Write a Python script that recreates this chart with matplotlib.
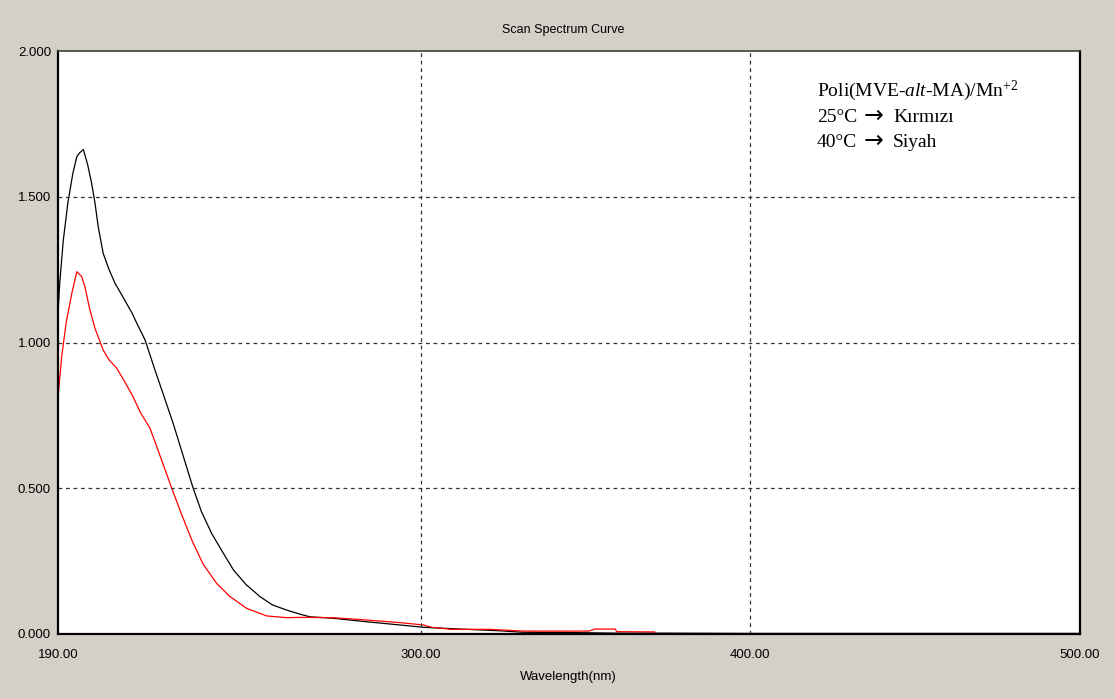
import matplotlib
matplotlib.use("Agg")
import matplotlib.pyplot as plt
from matplotlib import font_manager

# ---------------------------------------------------------------- data
# 40 C (black)
wl_black = [190.0, 190.5, 191.6, 193.0, 194.5, 195.7, 196.5, 197.7, 199.0, 200.2,
            201.2, 202.2, 203.7, 205.5, 207.3, 209.0, 210.8, 212.5, 213.9, 216.4,
            219.4, 222.0, 225.0, 228.0, 231.0, 233.5, 236.6, 240.0, 243.2, 247.0,
            251.3, 255.0, 259.4, 263.4, 266.4, 273.4, 283.6, 293.7, 300.8, 314.0,
            324.0, 331.0, 345.0, 359.0, 371.0, 400.0, 450.0, 500.0]
abs_black = [1.10, 1.20, 1.35, 1.48, 1.58, 1.637, 1.65, 1.662, 1.61, 1.546,
             1.48, 1.397, 1.306, 1.25, 1.203, 1.17, 1.134, 1.10, 1.066, 1.009,
             0.906, 0.82, 0.72, 0.61, 0.50, 0.42, 0.345, 0.28, 0.22, 0.17,
             0.128, 0.10, 0.082, 0.068, 0.059, 0.054, 0.042, 0.031, 0.023, 0.016,
             0.011, 0.006, 0.005, 0.003, 0.003, 0.002, 0.002, 0.002]

# 25 C (red)
wl_red = [190.0, 191.1, 192.5, 194.2, 195.7, 197.2, 198.2, 199.5, 201.2, 203.7,
          205.5, 207.8, 210.0, 212.5, 215.0, 217.9, 221.0, 224.5, 227.5, 230.6,
          234.0, 238.1, 242.0, 247.2, 253.3, 259.4, 263.4, 273.4, 283.6, 293.7,
          300.8, 303.3, 309.4, 321.0, 331.0, 351.0, 352.9, 359.0, 359.5, 371.0]
abs_red = [0.81, 0.95, 1.07, 1.169, 1.243, 1.226, 1.19, 1.12, 1.049, 0.974,
           0.94, 0.912, 0.87, 0.82, 0.76, 0.706, 0.61, 0.50, 0.41, 0.322,
           0.24, 0.174, 0.13, 0.088, 0.062, 0.056, 0.057, 0.056, 0.048, 0.039,
           0.031, 0.023, 0.016, 0.016, 0.010, 0.010, 0.017, 0.017, 0.008, 0.007]

x_ticks = [190, 300, 400, 500]
x_ticklabels = ["190.00", "300.00", "400.00", "500.00"]
y_ticks = [0.0, 0.5, 1.0, 1.5, 2.0]
y_ticklabels = ["0.000", "0.500", "1.000", "1.500", "2.000"]

legend_temps = ["25°C", "40°C"]
legend_words = ["Kırmızı", "Siyah"]

# ---------------------------------------------------------------- fonts
installed = {f.name for f in font_manager.fontManager.ttflist}
ui_font = ["Liberation Sans Narrow", "DejaVu Sans"] if "Liberation Sans Narrow" in installed \
    else ["Liberation Sans", "DejaVu Sans"]
serif_font = ["Liberation Serif", "DejaVu Serif"]
plt.rcParams["mathtext.fontset"] = "custom"
plt.rcParams["mathtext.rm"] = "Liberation Serif"
plt.rcParams["mathtext.it"] = "Liberation Serif:italic"

W, H = 1115, 699
fig = plt.figure(figsize=(W / 100, H / 100), dpi=100, facecolor="#D4D0C8")
ax = fig.add_axes([58 / W, 1 - 634 / H, (1080 - 58) / W, (634 - 51) / H])
ax.set_facecolor("white")

ax.plot(wl_black, abs_black, color="black", lw=0.9)
ax.plot(wl_red, abs_red, color="#FF0000", lw=0.9)

ax.set_xlim(190, 500)
ax.set_ylim(0, 2.0)
ax.set_xticks(x_ticks)
ax.set_xticklabels(x_ticklabels, family=ui_font, fontsize=9.5)
ax.set_yticks(y_ticks)
ax.set_yticklabels(y_ticklabels, family=ui_font, fontsize=9.5)
ax.tick_params(length=0)
ax.tick_params(axis="x", pad=11)
ax.tick_params(axis="y", pad=5)

for v in [300, 400]:
    ax.axvline(v, color="#333333", lw=0.9, ls=(0, (3, 3)))
for v in [0.5, 1.0, 1.5]:
    ax.axhline(v, color="#333333", lw=0.9, ls=(0, (3, 3)))

for side in ["left", "bottom", "right"]:
    ax.spines[side].set_color("black")
    ax.spines[side].set_linewidth(1.6)
ax.spines["top"].set_color("#404040")
ax.spines["top"].set_linewidth(1.2)

fig.text(563 / W, 1 - 30 / H, "Scan Spectrum Curve", ha="center", va="center",
         family=ui_font, fontsize=9)
fig.text(568 / W, 1 - 677 / H, "Wavelength(nm)", ha="center", va="center",
         family=ui_font, fontsize=9.5)

# annotation block (serif, like the original figure caption)
x0 = 817 / W
fig.text(x0, 1 - 96 / H, r"Poli(MVE-$\mathit{alt}$-MA)/Mn$^{+2}$", ha="left",
         va="baseline", family=serif_font, fontsize=14)
for i, (temp, word) in enumerate(zip(legend_temps, legend_words)):
    yb = 1 - (122 + 25 * i) / H
    fig.text(x0, yb, temp, ha="left", va="baseline", family=serif_font, fontsize=14)
    fig.text(864 / W, yb - 1 / H, "\u2192", ha="left", va="baseline",
             family=["DejaVu Sans"], fontsize=17)
    fig.text(893 / W, yb, word, ha="left", va="baseline", family=serif_font, fontsize=14)

fig.savefig("out.png", dpi=100, facecolor=fig.get_facecolor())
